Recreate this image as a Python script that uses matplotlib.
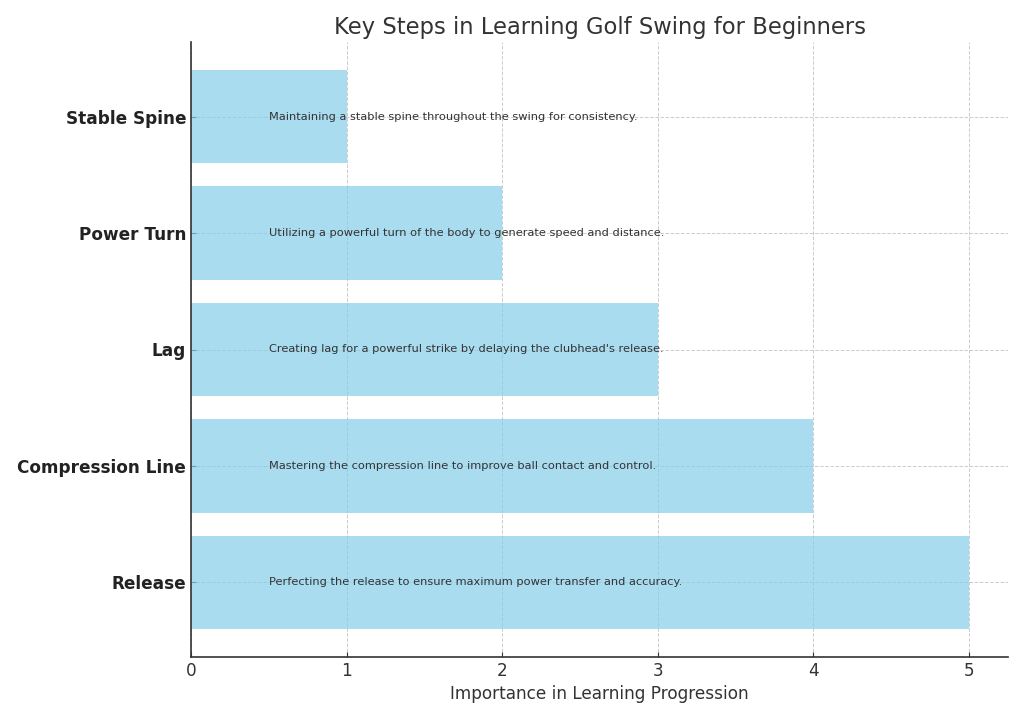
import matplotlib
matplotlib.use("Agg")
import matplotlib.pyplot as plt

steps = ["Release", "Compression Line", "Lag", "Power Turn", "Stable Spine"]
importance = [5, 4, 3, 2, 1]
descriptions = [
    "Perfecting the release to ensure maximum power transfer and accuracy.",
    "Mastering the compression line to improve ball contact and control.",
    "Creating lag for a powerful strike by delaying the clubhead's release.",
    "Utilizing a powerful turn of the body to generate speed and distance.",
    "Maintaining a stable spine throughout the swing for consistency.",
]

fig = plt.figure(figsize=(10.24, 7.17), dpi=100)
ax = fig.add_axes([191/1024, 1-657/717, (1008-191)/1024, (657-42)/717])

ax.barh(steps, importance, color="skyblue", alpha=0.7, height=0.8, zorder=2)
for i, d in enumerate(descriptions):
    ax.text(0.5, i, d, va="center", ha="left", fontsize=8.2, color="#333333", zorder=3)

ax.set_xlim(0, 5.25)
ax.set_title("Key Steps in Learning Golf Swing for Beginners", fontsize=16.3, color="#333333", pad=6)
ax.set_xlabel("Importance in Learning Progression", fontsize=12.2, color="#333333")
ax.grid(True, linestyle="--", color="#cccccc", linewidth=0.7, zorder=0)
ax.set_axisbelow(True)
for s in ["top", "right"]:
    ax.spines[s].set_visible(False)
for s in ["left", "bottom"]:
    ax.spines[s].set_color("#333333")
    ax.spines[s].set_linewidth(1.2)
ax.tick_params(axis="both", direction="in", colors="#333333")
ax.tick_params(axis="x", labelsize=12.2)
for lbl in ax.get_yticklabels():
    lbl.set_fontweight("bold")
    lbl.set_fontsize(12.2)
    lbl.set_color("#222222")

fig.savefig("out.png", dpi=100)
